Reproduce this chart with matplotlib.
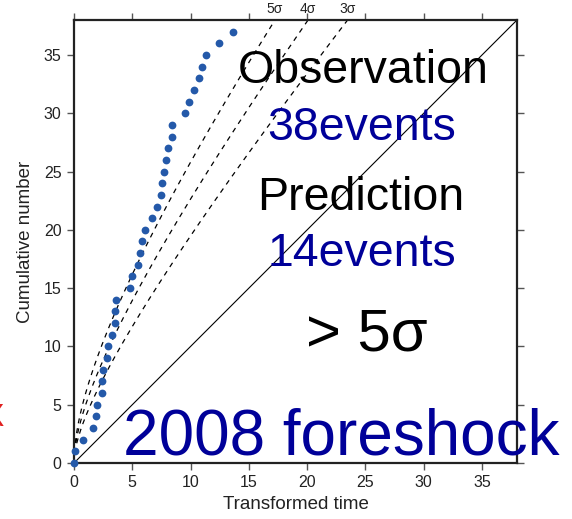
import numpy as np
import matplotlib
matplotlib.use("Agg")
import matplotlib.pyplot as plt

plt.rcParams['font.family'] = ['Liberation Sans', 'DejaVu Sans']

# cumulative event count vs transformed time
event_time = [0.0, 0.1, 0.75, 1.6, 1.9, 1.95, 2.4, 2.4, 2.45, 2.87,
              2.92, 3.27, 3.5, 3.55, 3.6, 4.78, 4.95, 5.47, 5.64, 5.84,
              6.13, 6.73, 7.1, 7.42, 7.57, 7.68, 7.91, 8.1, 8.4, 8.43,
              9.5, 9.9, 10.3, 10.75, 11.0, 11.3, 12.4, 13.6]
event_count = list(range(len(event_time)))

sigma_levels = [5, 4, 3]
sigma_labels = ['5σ', '4σ', '3σ']
axis_max = 38
ticks = [0, 5, 10, 15, 20, 25, 30, 35]

fig = plt.figure(figsize=(5.72, 5.19), dpi=100)
ax = fig.add_axes([0.1294, 0.1079, 0.7745, 0.8536])

t = np.linspace(0, axis_max, 600)
ax.plot(t, t, color='black', lw=0.8)
for k, lab in zip(sigma_levels, sigma_labels):
    ax.plot(t, t + k * np.sqrt(t), color='black', lw=0.9, ls=(0, (4, 4)))
    # label where the bound leaves the top of the frame
    x_top = ((-k + np.sqrt(k * k + 4 * axis_max)) / 2) ** 2
    ax.text(x_top, axis_max + 0.3, lab, ha='center', va='bottom',
            fontsize=10, color='#222222', clip_on=False)

ax.plot(event_time, event_count, 'o', color='#2459a9', ms=5.6, mew=0,
        clip_on=False, zorder=3)

ax.set_xlim(0, axis_max)
ax.set_ylim(0, axis_max)
ax.set_xticks(ticks)
ax.set_yticks(ticks)
ax.tick_params(direction='out', length=5, width=1, colors='#555555',
               labelcolor='#222222', labelsize=11.5, pad=4,
               top=True, right=True, labeltop=False, labelright=False)
for s in ax.spines.values():
    s.set_linewidth(1.6)
    s.set_color('#222222')

ax.set_xlabel('Transformed time', fontsize=13.5, color='#222222', labelpad=4)
ax.set_ylabel('Cumulative number', fontsize=13.5, color='#222222', labelpad=7)

navy = '#000099'
big = 33.5
fig.text(0.635, 0.8395, 'Observation', ha='center', va='baseline',
         fontsize=big, color='black')
fig.text(0.632, 0.7303, '38events', ha='center', va='baseline',
         fontsize=big, color=navy)
fig.text(0.630, 0.5954, 'Prediction', ha='center', va='baseline',
         fontsize=big, color='black')
fig.text(0.632, 0.4875, '14events', ha='center', va='baseline',
         fontsize=big, color=navy)
fig.text(0.641, 0.3256, '> 5σ', ha='center', va='baseline',
         fontsize=43, color='black')
fig.text(0.596, 0.1247, '2008 foreshock', ha='center', va='baseline',
         fontsize=46, color=navy)
fig.text(-0.012, 0.195, 'X', ha='center', va='center', fontsize=22,
         color='#e02020')

fig.savefig('out.png', dpi=100)
